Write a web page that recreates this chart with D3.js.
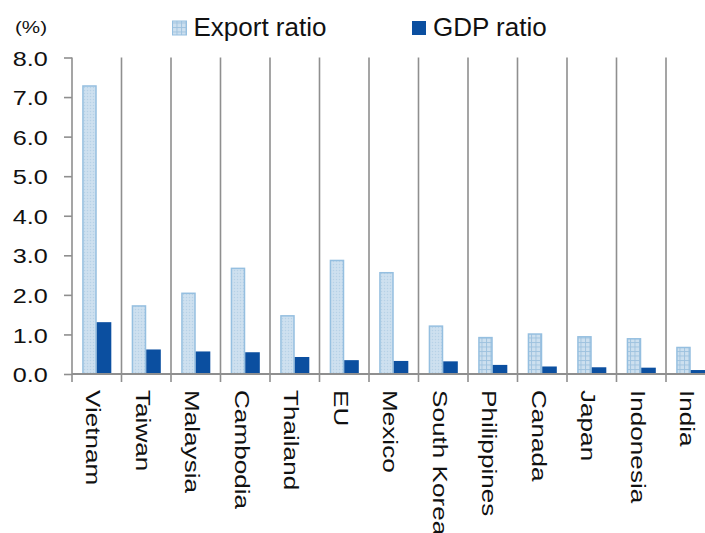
<!DOCTYPE html>
<html><head><meta charset="utf-8">
<script src="https://cdn.jsdelivr.net/npm/d3@7"></script>
<style>
html,body{margin:0;padding:0;background:#fff;}
svg text{font-family:"Liberation Sans",Arial,sans-serif;fill:#111;}
</style></head>
<body><svg id="c" width="705" height="533"></svg>
<script>
const categories = ["Vietnam","Taiwan","Malaysia","Cambodia","Thailand","EU","Mexico","South Korea","Philippines","Canada","Japan","Indonesia","India"];
const exportRatio = [7.28, 1.72, 2.04, 2.67, 1.47, 2.87, 2.56, 1.21, 0.92, 1.01, 0.94, 0.89, 0.67];
const gdpRatio = [1.31, 0.62, 0.57, 0.55, 0.43, 0.35, 0.33, 0.32, 0.23, 0.19, 0.17, 0.16, 0.10];
const exportPattern = ["dot","dot","dot","dot","dot","dot","dot","dot","grid","grid","grid","grid","grid"];
const seriesNames = ["Export ratio","GDP ratio"];
const yTicks = [0,1,2,3,4,5,6,7,8];

(function(){
const svg = d3.select("#c");
const pLeft = 72, pRight = 715.5, pTop = 57.5, pBottom = 374;
const gray = "#8f8f8f";

const defs = svg.append("defs");
const pd = defs.append("pattern").attr("id","pdot").attr("patternUnits","userSpaceOnUse").attr("width",3).attr("height",3);
pd.append("rect").attr("width",3).attr("height",3).attr("fill","#cadeee");
pd.append("rect").attr("x",0).attr("y",0).attr("width",1).attr("height",1).attr("fill","#b7d1e6");
pd.append("rect").attr("x",1.5).attr("y",1.5).attr("width",1).attr("height",1).attr("fill","#dbe8f3");
const pg = defs.append("pattern").attr("id","pgrid").attr("patternUnits","userSpaceOnUse").attr("width",4.5).attr("height",4.5);
pg.append("rect").attr("width",4.5).attr("height",4.5).attr("fill","#cde0ef");
pg.append("path").attr("d","M0,0.5H4.5M0.5,0V4.5").attr("stroke","#9ec2df").attr("stroke-width",0.9);

const x = d3.scaleBand().domain(categories).range([pLeft,pRight]).paddingInner(0).paddingOuter(0);
const x1 = d3.scaleBand().domain(seriesNames).range([0,x.bandwidth()]).paddingInner(0).paddingOuter(0.7);
const y = d3.scaleLinear().domain([0,8]).range([pBottom,pTop]);

// separators
const bounds = categories.map(c => x(c) + x.bandwidth());
svg.append("g").selectAll("line").data(bounds).join("line")
  .attr("x1",d=>d).attr("x2",d=>d).attr("y1",pTop).attr("y2",pBottom+8)
  .attr("stroke",gray).attr("stroke-width",1.6);

// bars
const g = svg.append("g");
g.selectAll("rect.ex").data(categories).join("rect").attr("class","ex")
  .attr("x",(c)=>x(c)+x1("Export ratio")+0.75)
  .attr("width",x1.bandwidth()-1.5)
  .attr("y",(c,i)=>y(exportRatio[i]))
  .attr("height",(c,i)=>pBottom-y(exportRatio[i]))
  .attr("fill",(c,i)=>exportPattern[i]==="dot"?"url(#pdot)":"url(#pgrid)")
  .attr("stroke","#95bfe0").attr("stroke-width",1.5);
g.selectAll("rect.gd").data(categories).join("rect").attr("class","gd")
  .attr("x",(c)=>x(c)+x1("GDP ratio"))
  .attr("width",x1.bandwidth())
  .attr("y",(c,i)=>y(gdpRatio[i]))
  .attr("height",(c,i)=>pBottom-y(gdpRatio[i]))
  .attr("fill","#0b4fa0");

// y axis
const ya = svg.append("g").attr("transform",`translate(${pLeft},0)`)
  .call(d3.axisLeft(y).tickValues(yTicks).tickFormat(d3.format(".1f")).tickSize(8).tickSizeOuter(0));
ya.select(".domain").remove();
ya.selectAll(".tick line").attr("stroke",gray).attr("stroke-width",1.6);
ya.selectAll(".tick text").attr("x",0).attr("transform","translate(-24.3,0) scale(1.2,1)")
  .style("font-size","21px").attr("fill","#111").attr("dy","0.36em");
svg.append("line").attr("x1",pLeft).attr("x2",pLeft).attr("y1",pTop).attr("y2",pBottom+8).attr("stroke",gray).attr("stroke-width",1.6);

// x axis
svg.append("line").attr("x1",pLeft).attr("x2",pRight).attr("y1",pBottom).attr("y2",pBottom).attr("stroke",gray).attr("stroke-width",1.8);
svg.append("g").selectAll("text").data(categories).join("text")
  .attr("transform",c=>`translate(${x(c)+x.bandwidth()/2-10.5},390) rotate(90) scale(1.32,1)`)
  .style("font-size","19.8px")
  .text(c=>c);

// unit label
svg.append("text").attr("transform","translate(15,32.5) scale(1.25,1)").style("font-size","16.5px").text("(%)");

// legend
const leg = [{name:"Export ratio",x:172,fill:"url(#pgrid)",stroke:"#95bfe0"},{name:"GDP ratio",x:411.5,fill:"#0b4fa0",stroke:"none"}];
const lg = svg.append("g").selectAll("g").data(leg).join("g").attr("transform",d=>`translate(${d.x},0)`);
lg.append("rect").attr("x",0.5).attr("y",21).attr("width",14).attr("height",14).attr("fill",d=>d.fill).attr("stroke",d=>d.stroke).attr("stroke-width",1);
lg.append("text").attr("x",21.5).attr("y",35.5).style("font-size","26px").text(d=>d.name);
})();
</script></body></html>
